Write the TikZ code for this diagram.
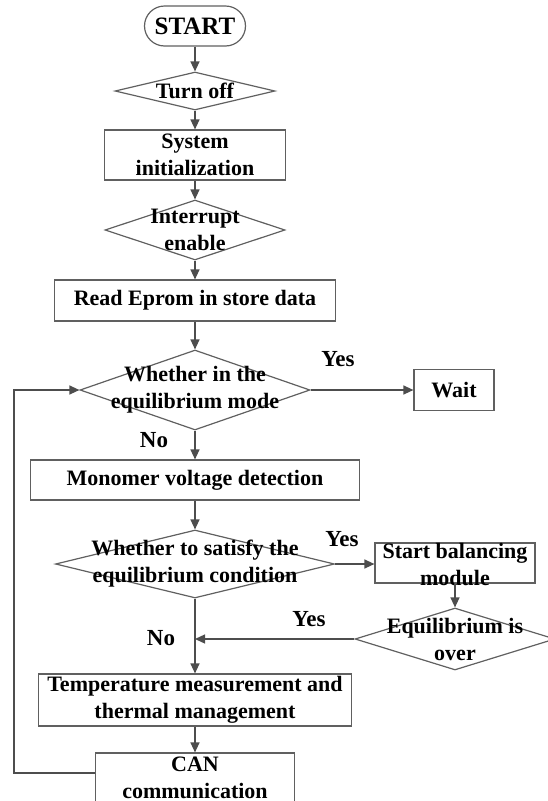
\documentclass[tikz,border=0pt]{standalone}
\usepackage{fontspec}
\setmainfont{Liberation Serif}
\usetikzlibrary{shapes.geometric,arrows.meta}
\definecolor{lineg}{HTML}{4D4D4D}
\definecolor{boxg}{HTML}{606060}
\begin{document}
\begin{tikzpicture}[x=1pt,y=-1pt,
  txt/.style={align=center,text=black,inner sep=0pt,font=\bfseries\fontsize{22}{27}\selectfont},
  ln/.style={draw=lineg,line width=1.3pt},
  arr/.style={ln,-{Triangle[length=10pt,width=9pt]}},
  box/.style={txt,draw=boxg,line width=1.2pt,fill=white,rectangle},
  dia/.style={draw=boxg,line width=1.2pt,fill=white,diamond,inner sep=0pt},
  term/.style={box,rounded corners=20pt,font=\bfseries\fontsize{25}{30}\selectfont},
  yn/.style={text=black,inner sep=0pt,font=\bfseries\fontsize{23}{27}\selectfont}
]
\useasboundingbox (0,0) rectangle (548,801);

\node[term,minimum width=101pt,minimum height=40pt] (s) at (195,26) {START};
\node[dia,minimum width=160pt,minimum height=38pt,label={[txt]center:Turn off}] (off) at (195,91) {};
\node[box,minimum width=181pt,minimum height=50pt] (init) at (195,155) {System\\initialization};
\node[dia,minimum width=180pt,minimum height=60pt,label={[txt]center:{Interrupt\\enable}}] (irq) at (195,230) {};
\node[box,minimum width=281pt,minimum height=41pt] (read) at (195,300.5) {Read Eprom in store data};
\node[dia,minimum width=230pt,minimum height=80pt,label={[txt]center:{Whether in the\\equilibrium mode}}] (d1) at (195,390) {};
\node[box,minimum width=80pt,minimum height=41pt] (wait) at (454,390) {Wait};
\node[box,minimum width=329pt,minimum height=40pt] (mono) at (195,480) {Monomer voltage detection};
\node[dia,minimum width=279pt,minimum height=68pt,label={[txt]center:{Whether to satisfy the\\equilibrium condition}}] (d2) at (195,564) {};
\node[box,minimum width=160pt,minimum height=40pt,label={[txt,yshift=-1pt]center:{Start balancing\\module}}] (bal) at (455,563) {};
\node[dia,minimum width=200pt,minimum height=62pt,label={[txt]center:{Equilibrium is\\over}}] (d3) at (455,639) {};
\node[box,minimum width=313pt,minimum height=52pt] (temp) at (195,700) {Temperature measurement and\\thermal management};
\node[box,minimum width=199pt,minimum height=50pt] (can) at (195,778) {CAN\\communication};

\node[yn] (y1) at (338,359) {Yes};
\node[yn] (n1) at (154,440) {No};
\node[yn] (y2) at (342,539) {Yes};
\node[yn] (y3) at (309,619) {Yes};
\node[yn] (n2) at (161,638) {No};

\coordinate (lp) at (14,390);
\coordinate (canw) at ([yshift=5pt]can.west);

\draw[arr] (s) -- (off);
\draw[arr] (off) -- (init);
\draw[arr] (init) -- (irq);
\draw[arr] (irq) -- (read);
\draw[arr] (read) -- (d1);
\draw[arr] (d1.east) -- (wait.west);
\draw[arr] (d1.south) -- (mono.north);
\draw[arr] (mono) -- (d2);
\draw[arr] (d2.east) -- (bal.west |- d2.east);
\draw[arr] (bal.south) -- (d3.north);
\draw[arr] (d3.west) -- (d3.west -| d2.south);
\draw[arr] (d2.south) -- (temp.north);
\draw[arr] (temp) -- (can);
\draw[arr] (canw) -- (canw -| lp) |- (d1.west);
\end{tikzpicture}
\end{document}
